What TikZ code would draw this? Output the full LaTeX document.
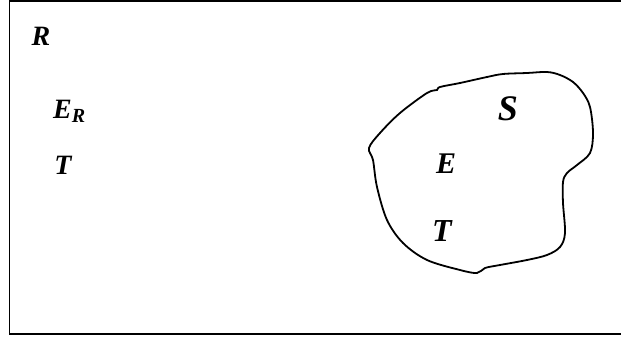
\documentclass[tikz,border=0pt]{standalone}
\usepackage{fontspec}
\setmainfont{Liberation Serif}
\begin{document}
\begin{tikzpicture}[x=1pt,y=-1pt,
  lbl/.style={inner sep=0pt,font=\bfseries\itshape\fontsize{28}{30}\selectfont},
  frame/.style={line width=1.8pt},
  blob/.style={line width=1.8pt}]
\useasboundingbox (0,0) rectangle (621,337);
\draw[frame] (625,1) -- (9.5,1) -- (9.5,334) -- (625,334);
\draw[blob] plot[smooth cycle,tension=0.55] coordinates {
 (369,148) (380,133) (400,113) (427,93) (437,90) (440,87) (460,83) (487,77)
 (503,74) (527,73) (547,72) (560,75) (573,82) (583,93) (590,107) (593,133)
 (590,153) (577,165) (567,173) (563,182) (563,203) (565,233) (560,247)
 (547,255) (527,260) (500,265) (485,268) (477,273) (460,270) (427,260)
 (403,243) (387,220) (377,187) (373,160)};
\node[lbl] (R) at (41,36) {R};
\node[lbl,anchor=base west] (ER) at (53,118) {E\raisebox{-4pt}{\fontsize{20}{20}\selectfont R}};
\node[lbl] (T1) at (63,165) {T};
\node[lbl,font=\bfseries\itshape\fontsize{36}{38}\selectfont] (S) at (508,109) {S};
\node[lbl,font=\bfseries\itshape\fontsize{30}{32}\selectfont] (E) at (446,164) {E};
\node[lbl,font=\bfseries\itshape\fontsize{32}{34}\selectfont] (T2) at (442,231) {T};
\end{tikzpicture}
\end{document}
